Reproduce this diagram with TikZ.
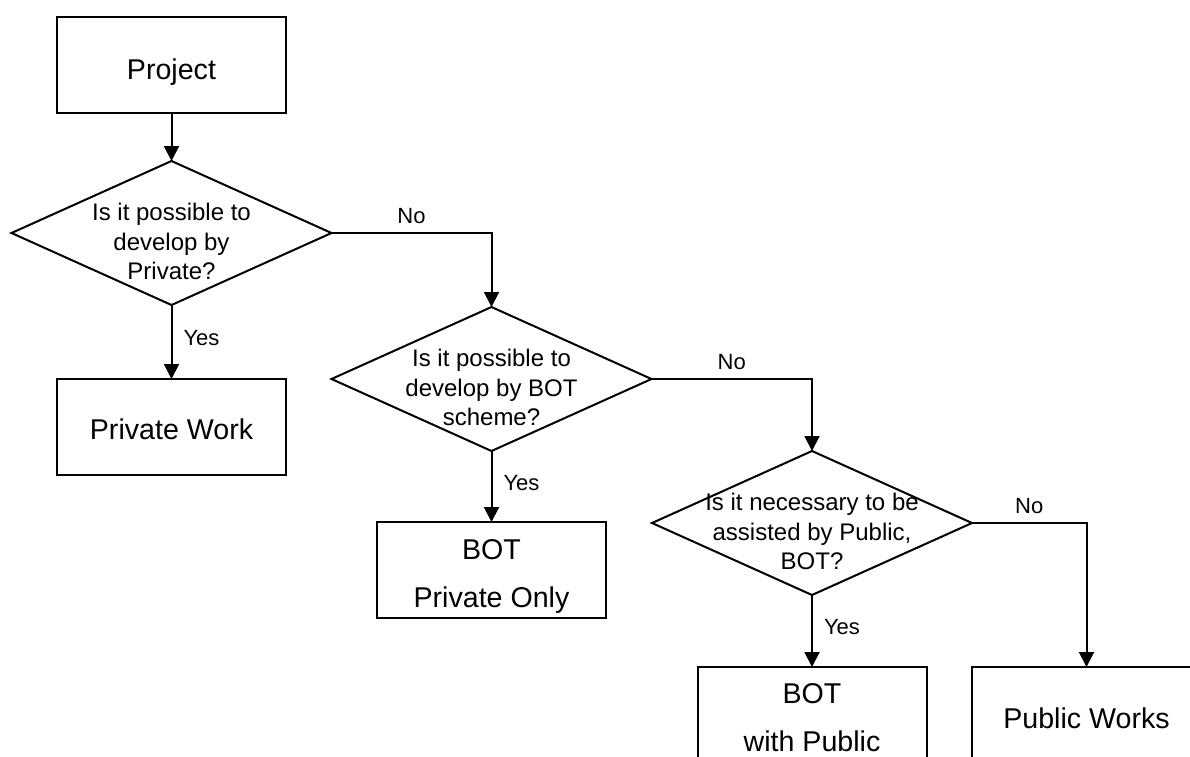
\documentclass[tikz,border=0pt]{standalone}
\usepackage{fontspec}
\setmainfont{Liberation Sans}
\usetikzlibrary{arrows.meta,shapes.geometric}
\tikzset{
  conn/.style={line width=2pt, -{Triangle[length=15pt,width=15pt]}},
  boxnode/.style={draw, line width=2pt, minimum width=229pt, minimum height=96pt, inner sep=0pt, outer sep=0pt},
  decision/.style={draw, diamond, line width=2pt, minimum width=320pt, minimum height=144pt, inner sep=0pt, outer sep=0pt},
  dtext/.style={font=\fontsize{24}{29.3}\selectfont, align=center, inner sep=0pt},
  btext/.style={font=\fontsize{28.6}{48}\selectfont, align=center, inner sep=0pt},
  lbl/.style={font=\fontsize{22}{26}\selectfont, inner sep=0pt},
  yeslbl/.style={lbl, pos=0.55, anchor=base west, xshift=11pt},
  nolbl/.style={lbl, pos=0.25, anchor=base, yshift=10pt},
}
\begin{document}
\begin{tikzpicture}[x=1pt,y=-1pt]
\useasboundingbox (0,0) rectangle (1190,756);
\fill[white] (0,0) rectangle (1190,756);
\clip (0,0) rectangle (1190,756);

% boxes
\node[boxnode] (b0) at (171.5,65) {};
\node[boxnode] (b1) at (171.5,427) {};
\node[boxnode] (b2) at (491.5,570) {};
\node[boxnode] (b3) at (812,715) {};
\node[boxnode] (b4) at (1086.5,715) {};

% decisions
\node[decision] (d1) at (171.5,233) {};
\node[decision] (d2) at (491.5,379) {};
\node[decision] (d3) at (812,523) {};

% texts
\node[btext] (t0) at (171.5,69.4) {\strut Project\strut};
\node[btext] (t1) at (171.5,429.4) {\strut Private Work\strut};
\node[btext] (t2) at (491.5,573.4) {\strut BOT\\\strut Private Only\strut};
\node[btext] (t3) at (812,717.9) {\strut BOT\\\strut with Public\strut};
\node[btext] (t4) at (1086.5,718.7) {\strut Public Works\strut};

\node[dtext] (dt1) at (171.5,244.4) {\strut Is it possible to\\\strut develop by\\\strut Private?\strut};
\node[dtext] (dt2) at (491.5,390.4) {\strut Is it possible to\\\strut develop by BOT\\\strut scheme?\strut};
\node[dtext] (dt3) at (812,534.4) {\strut Is it necessary to be\\\strut assisted by Public,\\\strut BOT?\strut};

% connectors
\draw[conn] (b0.south) -- (d1.north);
\draw[conn] (d1.south) -- node[yeslbl] (y1) {Yes} (b1.north);
\draw[conn] (d1.east) -| node[nolbl] (n1) {No} (d2.north);
\draw[conn] (d2.south) -- node[yeslbl] (y2) {Yes} (b2.north);
\draw[conn] (d2.east) -| node[nolbl] (n2) {No} (d3.north);
\draw[conn] (d3.south) -- node[yeslbl] (y3) {Yes} (b3.north);
\draw[conn] (d3.east) -| node[nolbl] (n3) {No} (b4.north);
\end{tikzpicture}
\end{document}
